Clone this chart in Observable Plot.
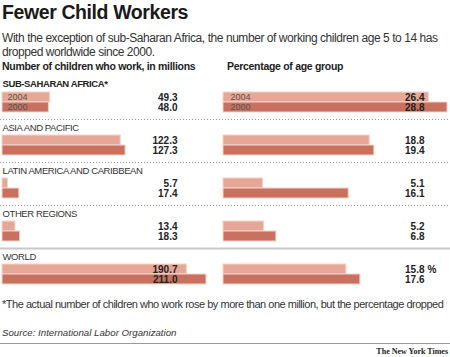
<!DOCTYPE html>
<html><head><meta charset="utf-8">
<script src="https://cdn.jsdelivr.net/npm/d3@7"></script>
<script src="https://cdn.jsdelivr.net/npm/@observablehq/plot@0.6"></script>
<style>
body{margin:0;background:#fff;font-family:"Liberation Sans",Arial,sans-serif;color:#222;}
#wrap{position:relative;width:450px;height:357px;overflow:hidden;background:#fff;}
.t{position:absolute;white-space:nowrap;left:2px;}
#title{top:2.6px;font-size:19.5px;line-height:19.5px;font-weight:bold;letter-spacing:-0.4px;color:#1a1a1a;}
#sub{top:31px;font-size:12px;line-height:14px;letter-spacing:-0.44px;color:#333;}
.hd{top:61px;font-size:10.5px;line-height:10.5px;font-weight:bold;color:#222;letter-spacing:-0.3px;}
#foot{top:298.8px;font-size:11px;line-height:11px;letter-spacing:-0.48px;color:#333;}
#src{top:327.8px;font-size:9.7px;line-height:9.7px;font-style:italic;color:#333;}
#rule{position:absolute;left:0;top:343px;width:450px;height:1px;background:#999;}
#nyt{position:absolute;right:2px;top:348px;font-family:"Liberation Serif",serif;font-weight:bold;font-size:8px;line-height:8px;color:#222;}
#plots{position:absolute;left:0;top:76px;display:flex;}
#plots svg{display:block;}
</style></head><body>
<div id="wrap">
<div class="t" id="title">Fewer Child Workers</div>
<div class="t" id="sub">With the exception of sub-Saharan Africa, the number of working children age 5 to 14 has<br>dropped worldwide since 2000.</div>
<div class="t hd" style="left:2px">Number of children who work, in millions</div>
<div class="t hd" style="left:227px">Percentage of age group</div>
<div id="plots"></div>
<div class="t" id="foot">*The actual number of children who work rose by more than one million, but the percentage dropped</div>
<div class="t" id="src">Source: International Labor Organization</div>
<div id="rule"></div>
<div id="nyt">The New York Times</div>
</div>
<script>
const regions = ["SUB-SAHARAN AFRICA*", "ASIA AND PACIFIC", "LATIN AMERICA AND CARIBBEAN", "OTHER REGIONS", "WORLD"];
const years = ["2004", "2000"];
const count2004 = [49.3, 122.3, 5.7, 13.4, 190.7];
const count2000 = [48.0, 127.3, 17.4, 18.3, 211.0];
const pct2004 = [26.4, 18.8, 5.1, 5.2, 15.8];
const pct2000 = [28.8, 19.4, 16.1, 6.8, 17.6];

const c2004 = "#e7a797", c2000 = "#c9705f";

const rows = regions.flatMap((r, i) => [
  {region: r, year: "2004", count: count2004[i], pct: pct2004[i]},
  {region: r, year: "2000", count: count2000[i], pct: pct2000[i]}
]);

function panel({value, width, xDomain, xRange, labelDx, yearDx, showRegions, pctSign}) {
  const marks = [
    Plot.ruleY(regions.slice(0, 3), {fy: d => d, y: () => "2000", dy: 12, stroke: "#9a9a9a", strokeDasharray: "1,2"}),
    Plot.ruleY([regions[3]], {fy: d => d, y: () => "2000", dy: 12, stroke: "#c8c8c8", strokeWidth: 2}),
    Plot.barX(rows, {x: value, y: "year", fy: "region", fill: "year", stroke: "#f3d3ca", strokeWidth: 1}),
    Plot.text(rows, {y: "year", fy: "region", text: d => d[value].toFixed(1), frameAnchor: "right", dx: labelDx, textAnchor: "end", fontSize: 10, fontWeight: "bold", fill: "#222"}),
    Plot.text(rows.filter(d => d.region === regions[0]), {y: "year", fy: "region", text: "year", frameAnchor: "left", dx: yearDx, textAnchor: "start", fontSize: 9, fill: "#555"})
  ];
  if (showRegions) {
    marks.push(Plot.text([regions[0]], {fy: d => d, text: d => d, frameAnchor: "top-left", lineAnchor: "top", dx: 2, dy: 4, fontSize: 9.5, fontWeight: "bold", fill: "#222"}));
    marks.push(Plot.text(regions.slice(1), {fy: d => d, text: d => d, frameAnchor: "top-left", lineAnchor: "top", dx: 2, dy: 5, fontSize: 9.5, fill: "#333"}));
  }
  if (pctSign) {
    marks.push(Plot.text(rows.filter(d => d.region === "WORLD" && d.year === "2004"), {y: "year", fy: "region", text: () => "%", frameAnchor: "right", dx: labelDx + 3, textAnchor: "start", fontSize: 10, fontWeight: "bold", fill: "#222"}));
  }
  return Plot.plot({
    width, height: 215, margin: 0,
    style: {fontFamily: "Liberation Sans, Arial, sans-serif", background: "transparent", overflow: "visible"},
    x: {domain: xDomain, range: xRange, axis: null},
    y: {domain: years, paddingInner: 0, paddingOuter: 1.05, align: 0.7, axis: null},
    fy: {domain: regions, padding: 0, axis: null},
    color: {domain: years, range: [c2004, c2000]},
    marks
  });
}

const host = document.getElementById("plots");
const left = panel({value: "count", width: 222, xDomain: [0, 211], xRange: [2, 206], labelDx: -45, yearDx: 7, showRegions: true, pctSign: false});
const right = panel({value: "pct", width: 228, xDomain: [0, 28.8], xRange: [1, 225], labelDx: -26, yearDx: 8, showRegions: false, pctSign: true});
left.querySelectorAll("text").forEach(t => {
  if (regions.includes(t.textContent)) t.style.letterSpacing = "-0.4px";
});
host.appendChild(left);
host.appendChild(right);
</script>
</body></html>
